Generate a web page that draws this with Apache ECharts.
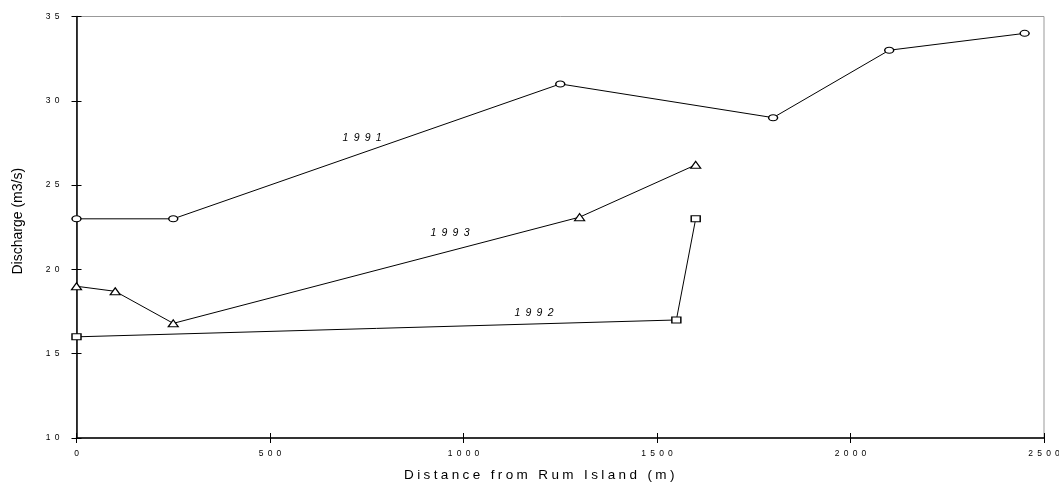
<!DOCTYPE html>
<html>
<head>
<meta charset="utf-8">
<script src="https://cdn.jsdelivr.net/npm/echarts@6/dist/echarts.min.js"></script>
<style>
  html, body { margin: 0; padding: 0; background: #fff; }
  #chart { width: 1059px; height: 485px; }
</style>
</head>
<body>
<div id="chart"></div>
<script>
// Discharge measured at stations along the channel, by survey year
const distance1991 = [0, 250, 1250, 1800, 2100, 2450];
const discharge1991 = [23.0, 23.0, 31.0, 29.0, 33.0, 34.0];

const distance1993 = [0, 100, 250, 1300, 1600];
const discharge1993 = [19.0, 18.7, 16.8, 23.1, 26.2];

const distance1992 = [0, 1550, 1600];
const discharge1992 = [16.0, 17.0, 23.0];

const xTicks = [0, 500, 1000, 1500, 2000, 2500];
const yTicks = [10, 15, 20, 25, 30, 35];

const yearNames = ['1991', '1993', '1992'];
// where each year's name sits beside its line (data units)
const yearLabelAt = [[738, 27.8], [965, 22.15], [1182, 17.4]];

// tracked lettering: characters separated by a fixed-width gap
const EN_SPACE = '\u2002';
const QUARTER_SPACE = '\u2005';
const track = (s, gap) => String(s).split('').join(gap);
const FONT = '"Liberation Sans", Arial, sans-serif';

function pairs(xs, ys) { return xs.map((x, i) => [x, ys[i]]); }

function lineSeries(name, xs, ys, symbol, size, labelAt) {
  return {
    name: name,
    type: 'line',
    data: pairs(xs, ys),
    symbol: symbol,
    symbolSize: size,
    showAllSymbol: true,
    lineStyle: { color: '#000', width: 1 },
    itemStyle: { color: '#fff', borderColor: '#000', borderWidth: 1.2 },
    emphasis: { disabled: true },
    z: 3,
    markPoint: {
      symbol: 'circle',
      symbolSize: 1,
      silent: true,
      itemStyle: { color: 'rgba(0,0,0,0)', borderWidth: 0 },
      data: [{ coord: labelAt, value: name }],
      label: {
        show: true,
        formatter: p => track(p.value, EN_SPACE),
        fontFamily: FONT,
        fontStyle: 'italic',
        fontSize: 10.5,
        color: '#000',
        position: 'inside'
      }
    }
  };
}

const chart = echarts.init(document.getElementById('chart'), null, { renderer: 'canvas' });

const xBase = {
  type: 'value', min: xTicks[0], max: xTicks[xTicks.length - 1], interval: 500,
  splitLine: { show: false }
};
const yBase = {
  type: 'value', min: yTicks[0], max: yTicks[yTicks.length - 1], interval: 5,
  splitLine: { show: false }
};
const tickLabel = { formatter: v => track(v, EN_SPACE), fontFamily: FONT, fontSize: 8.5, color: '#000' };

chart.setOption({
  animation: false,
  backgroundColor: '#fff',
  grid: {
    left: 76.5, right: 15, top: 16.5, bottom: 47,
    outerBoundsMode: 'none',
    containLabel: false,
    show: true, borderColor: '#999', borderWidth: 1, backgroundColor: 'transparent'
  },
  xAxis: [
    Object.assign({}, xBase, {
      position: 'bottom',
      name: track('Distance from Rum Island (m)', QUARTER_SPACE),
      nameLocation: 'middle',
      nameGap: 30,
      nameTextStyle: { fontFamily: FONT, fontSize: 13.5, color: '#000', padding: [0, 42, 0, 0] },
      axisLine: { show: true, onZero: false, lineStyle: { color: '#000', width: 1.5 } },
      axisTick: { show: true, length: 5, lineStyle: { color: '#000', width: 1 } },
      axisLabel: Object.assign({ margin: 11 }, tickLabel)
    }),
    Object.assign({}, xBase, {
      position: 'bottom',
      axisLine: { show: false },
      axisTick: { show: true, inside: true, length: 5, lineStyle: { color: '#000', width: 1 } },
      axisLabel: { show: false }
    })
  ],
  yAxis: [
    Object.assign({}, yBase, {
      position: 'left',
      name: 'Discharge (m3/s)',
      nameLocation: 'middle',
      nameGap: 51,
      nameTextStyle: { fontFamily: FONT, fontSize: 14, color: '#000', padding: [0, 0, 0, 12] },
      axisLine: { show: true, onZero: false, lineStyle: { color: '#000', width: 1.5 } },
      axisTick: { show: true, length: 5, lineStyle: { color: '#000', width: 1 } },
      axisLabel: Object.assign({ margin: 17 }, tickLabel)
    }),
    Object.assign({}, yBase, {
      position: 'left',
      axisLine: { show: false },
      axisTick: { show: true, inside: true, length: 5, lineStyle: { color: '#000', width: 1 } },
      axisLabel: { show: false }
    })
  ],
  series: [
    lineSeries(yearNames[0], distance1991, discharge1991, 'circle', [9, 6], yearLabelAt[0]),
    lineSeries(yearNames[1], distance1993, discharge1993, 'triangle', [10, 7], yearLabelAt[1]),
    lineSeries(yearNames[2], distance1992, discharge1992, 'rect', [9, 6], yearLabelAt[2])
  ]
});
</script>
</body>
</html>
